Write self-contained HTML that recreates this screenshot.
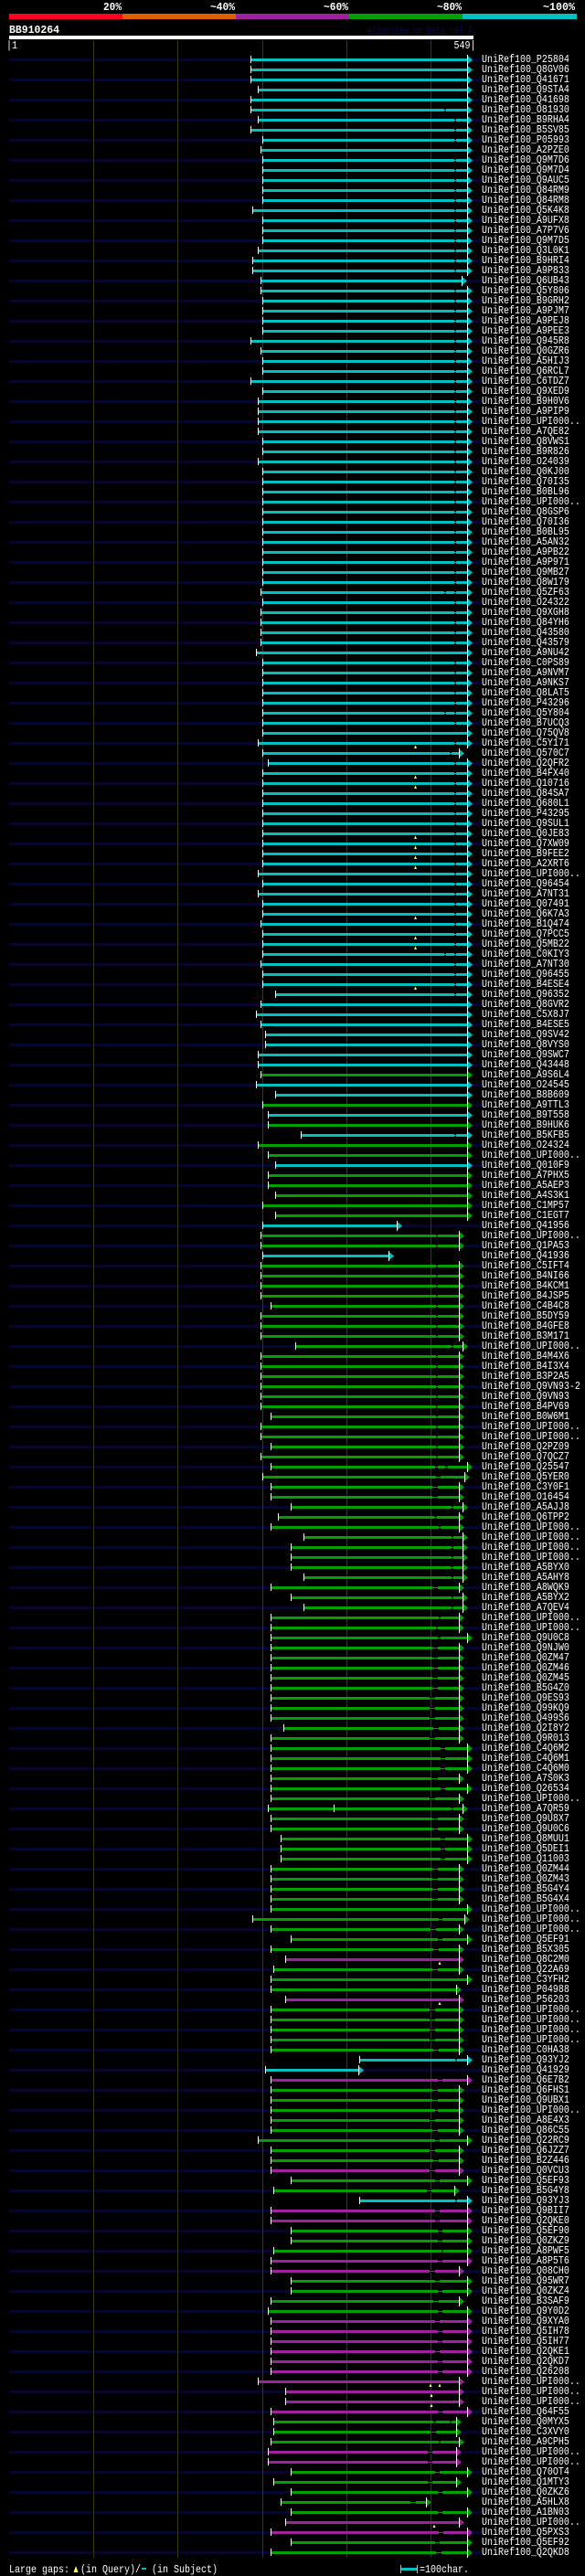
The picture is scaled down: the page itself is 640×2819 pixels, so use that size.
<!DOCTYPE html>
<html><head><meta charset="utf-8"><style>
html,body{margin:0;padding:0;background:#000}
svg{display:block}
text{font-family:"Liberation Mono","DejaVu Sans Mono",monospace;fill:#fff;font-size:12px}
.l{transform:translate(527px,3px) scaleX(.8333)}
.c{stroke:#00c0c0}.g{stroke:#00a000}.m{stroke:#a020a0}
.c,.g,.m{stroke-width:3;fill:none}
.k{stroke:#000;stroke-width:1;fill:none}
.b{font-weight:bold}
</style></head><body>
<svg width="640" height="2819" viewBox="0 0 640 2819" xmlns="http://www.w3.org/2000/svg">
<defs>
<path id="t" d="M.5-4v8" stroke="#fff"/>
<g id="ec"><path d="M0-4.5L6 .5 0 5.5z" fill="#00c0c0"/><path d="M.5-5v11" stroke="#fff"/></g>
<g id="eg"><path d="M0-4.5L6 .5 0 5.5z" fill="#00a000"/><path d="M.5-5v11" stroke="#fff"/></g>
<g id="em"><path d="M0-4.5L6 .5 0 5.5z" fill="#a020a0"/><path d="M.5-5v11" stroke="#fff"/></g>
<path id="y" d="M-1.5 6h3L0 2.5z" fill="#ffff60"/>
<pattern id="st" patternUnits="userSpaceOnUse" x="0" y="64" width="640" height="22"><rect width="640" height="3" fill="#06062c"/></pattern>
</defs>
<rect width="640" height="2819" fill="#000"/>
<!-- header -->
<rect x="10" y="15" width="124" height="6" fill="#ff0020"/>
<rect x="134" y="15" width="124" height="6" fill="#e06000"/>
<rect x="258" y="15" width="124" height="6" fill="#a020a0"/>
<rect x="382" y="15" width="124" height="6" fill="#00a000"/>
<rect x="506" y="15" width="125" height="6" fill="#00c0c0"/>
<text class="b" x="113" y="11" font-size="13" textLength="20" lengthAdjust="spacingAndGlyphs">20%</text>
<text class="b" x="230" y="11" font-size="13" textLength="27" lengthAdjust="spacingAndGlyphs">~40%</text>
<text class="b" x="354" y="11" font-size="13" textLength="27" lengthAdjust="spacingAndGlyphs">~60%</text>
<text class="b" x="478" y="11" font-size="13" textLength="27" lengthAdjust="spacingAndGlyphs">~80%</text>
<text class="b" x="594" y="11" font-size="13" textLength="35" lengthAdjust="spacingAndGlyphs">~100%</text>
<text class="b" x="10" y="36" textLength="55" lengthAdjust="spacingAndGlyphs">BB910264</text>
<text x="402" y="37" font-size="9" style="fill:#0c0c4c" textLength="115" lengthAdjust="spacingAndGlyphs">AlignView.pm Beta rel.7</text>
<rect x="10" y="39" width="508" height="4" fill="#fff"/>
<text x="7" y="53" textLength="12" lengthAdjust="spacingAndGlyphs">|1</text>
<text x="496.5" y="53" textLength="24" lengthAdjust="spacingAndGlyphs">549|</text>
<!-- stripes & grid -->
<rect x="10" y="64" width="517" height="2731" fill="url(#st)"/>
<path d="M102.5 44V2799M194.5 44V2799M287.5 44V2799M379.5 44V2799M471.5 44V2799" stroke="#38380e" fill="none"/>
<!-- rows -->
<g transform="translate(0 65)"><path class="c" d="M274 .5H511"/><use href="#t" x="274"/><use href="#ec" x="511"/><text class="l">UniRef100_P25804</text></g>
<g transform="translate(0 76)"><path class="c" d="M274 .5H511"/><use href="#t" x="274"/><use href="#ec" x="511"/><text class="l">UniRef100_Q8GV06</text></g>
<g transform="translate(0 87)"><path class="c" d="M274 .5H511"/><use href="#t" x="274"/><use href="#ec" x="511"/><text class="l">UniRef100_Q41671</text></g>
<g transform="translate(0 98)"><path class="c" d="M282 .5H511"/><use href="#t" x="282"/><use href="#ec" x="511"/><text class="l">UniRef100_Q9STA4</text></g>
<g transform="translate(0 109)"><path class="c" d="M274 .5H511"/><use href="#t" x="274"/><use href="#ec" x="511"/><text class="l">UniRef100_Q41698</text></g>
<g transform="translate(0 120)"><path class="c" d="M274 .5H511"/><path class="k" d="M486-.5h2m-2 2h2"/><use href="#t" x="274"/><use href="#ec" x="511"/><text class="l">UniRef100_O81930</text></g>
<g transform="translate(0 131)"><path class="c" d="M282 .5H511"/><path class="k" d="M497-.5h2m-2 2h2"/><use href="#t" x="282"/><use href="#ec" x="511"/><text class="l">UniRef100_B9RHA4</text></g>
<g transform="translate(0 142)"><path class="c" d="M274 .5H511"/><path class="k" d="M497-.5h2m-2 2h2"/><use href="#t" x="274"/><use href="#ec" x="511"/><text class="l">UniRef100_B5SV85</text></g>
<g transform="translate(0 153)"><path class="c" d="M287 .5H511"/><path class="k" d="M497-.5h2m-2 2h2"/><use href="#t" x="287"/><use href="#ec" x="511"/><text class="l">UniRef100_P05993</text></g>
<g transform="translate(0 164)"><path class="c" d="M285 .5H511"/><use href="#t" x="285"/><use href="#ec" x="511"/><text class="l">UniRef100_A2PZE0</text></g>
<g transform="translate(0 175)"><path class="c" d="M287 .5H511"/><path class="k" d="M497-.5h2m-2 2h2"/><use href="#t" x="287"/><use href="#ec" x="511"/><text class="l">UniRef100_Q9M7D6</text></g>
<g transform="translate(0 186)"><path class="c" d="M287 .5H511"/><path class="k" d="M497-.5h2m-2 2h2"/><use href="#t" x="287"/><use href="#ec" x="511"/><text class="l">UniRef100_Q9M7D4</text></g>
<g transform="translate(0 197)"><path class="c" d="M287 .5H511"/><path class="k" d="M497-.5h2m-2 2h2"/><use href="#t" x="287"/><use href="#ec" x="511"/><text class="l">UniRef100_Q9AUC5</text></g>
<g transform="translate(0 208)"><path class="c" d="M287 .5H511"/><path class="k" d="M497-.5h2m-2 2h2"/><use href="#t" x="287"/><use href="#ec" x="511"/><text class="l">UniRef100_Q84RM9</text></g>
<g transform="translate(0 219)"><path class="c" d="M287 .5H511"/><path class="k" d="M497-.5h2m-2 2h2"/><use href="#t" x="287"/><use href="#ec" x="511"/><text class="l">UniRef100_Q84RM8</text></g>
<g transform="translate(0 230)"><path class="c" d="M276 .5H511"/><path class="k" d="M497-.5h2m-2 2h2"/><use href="#t" x="276"/><use href="#ec" x="511"/><text class="l">UniRef100_Q5K4K8</text></g>
<g transform="translate(0 241)"><path class="c" d="M287 .5H511"/><path class="k" d="M497-.5h2m-2 2h2"/><use href="#t" x="287"/><use href="#ec" x="511"/><text class="l">UniRef100_A9UFX8</text></g>
<g transform="translate(0 252)"><path class="c" d="M287 .5H511"/><path class="k" d="M497-.5h2m-2 2h2"/><use href="#t" x="287"/><use href="#ec" x="511"/><text class="l">UniRef100_A7P7V6</text></g>
<g transform="translate(0 263)"><path class="c" d="M287 .5H511"/><path class="k" d="M497-.5h2m-2 2h2"/><use href="#t" x="287"/><use href="#ec" x="511"/><text class="l">UniRef100_Q9M7D5</text></g>
<g transform="translate(0 274)"><path class="c" d="M282 .5H511"/><path class="k" d="M497-.5h2m-2 2h2"/><use href="#t" x="282"/><use href="#ec" x="511"/><text class="l">UniRef100_Q3L0K1</text></g>
<g transform="translate(0 285)"><path class="c" d="M276 .5H511"/><path class="k" d="M497-.5h2m-2 2h2"/><use href="#t" x="276"/><use href="#ec" x="511"/><text class="l">UniRef100_B9HRI4</text></g>
<g transform="translate(0 296)"><path class="c" d="M276 .5H511"/><path class="k" d="M497-.5h2m-2 2h2"/><use href="#t" x="276"/><use href="#ec" x="511"/><text class="l">UniRef100_A9P833</text></g>
<g transform="translate(0 307)"><path class="c" d="M285 .5H505"/><use href="#t" x="285"/><use href="#ec" x="505"/><text class="l">UniRef100_Q6UB43</text></g>
<g transform="translate(0 318)"><path class="c" d="M285 .5H511"/><path class="k" d="M497-.5h2m-2 2h2"/><use href="#t" x="285"/><use href="#ec" x="511"/><text class="l">UniRef100_Q5Y806</text></g>
<g transform="translate(0 329)"><path class="c" d="M287 .5H511"/><path class="k" d="M497-.5h2m-2 2h2"/><use href="#t" x="287"/><use href="#ec" x="511"/><text class="l">UniRef100_B9GRH2</text></g>
<g transform="translate(0 340)"><path class="c" d="M287 .5H511"/><path class="k" d="M497-.5h2m-2 2h2"/><use href="#t" x="287"/><use href="#ec" x="511"/><text class="l">UniRef100_A9PJM7</text></g>
<g transform="translate(0 351)"><path class="c" d="M287 .5H511"/><path class="k" d="M497-.5h2m-2 2h2"/><use href="#t" x="287"/><use href="#ec" x="511"/><text class="l">UniRef100_A9PEJ8</text></g>
<g transform="translate(0 362)"><path class="c" d="M287 .5H511"/><path class="k" d="M497-.5h2m-2 2h2"/><use href="#t" x="287"/><use href="#ec" x="511"/><text class="l">UniRef100_A9PEE3</text></g>
<g transform="translate(0 373)"><path class="c" d="M274 .5H511"/><path class="k" d="M497-.5h2m-2 2h2"/><use href="#t" x="274"/><use href="#ec" x="511"/><text class="l">UniRef100_Q945R8</text></g>
<g transform="translate(0 384)"><path class="c" d="M285 .5H511"/><path class="k" d="M497-.5h2m-2 2h2"/><use href="#t" x="285"/><use href="#ec" x="511"/><text class="l">UniRef100_Q0GZR6</text></g>
<g transform="translate(0 395)"><path class="c" d="M287 .5H511"/><path class="k" d="M497-.5h2m-2 2h2"/><use href="#t" x="287"/><use href="#ec" x="511"/><text class="l">UniRef100_A5HIJ3</text></g>
<g transform="translate(0 406)"><path class="c" d="M287 .5H511"/><path class="k" d="M497-.5h2m-2 2h2"/><use href="#t" x="287"/><use href="#ec" x="511"/><text class="l">UniRef100_Q6RCL7</text></g>
<g transform="translate(0 417)"><path class="c" d="M274 .5H511"/><path class="k" d="M497-.5h2m-2 2h2"/><use href="#t" x="274"/><use href="#ec" x="511"/><text class="l">UniRef100_C6TDZ7</text></g>
<g transform="translate(0 428)"><path class="c" d="M287 .5H511"/><path class="k" d="M497-.5h2m-2 2h2"/><use href="#t" x="287"/><use href="#ec" x="511"/><text class="l">UniRef100_Q9XED9</text></g>
<g transform="translate(0 439)"><path class="c" d="M282 .5H511"/><path class="k" d="M497-.5h2m-2 2h2"/><use href="#t" x="282"/><use href="#ec" x="511"/><text class="l">UniRef100_B9H0V6</text></g>
<g transform="translate(0 450)"><path class="c" d="M282 .5H511"/><path class="k" d="M497-.5h2m-2 2h2"/><use href="#t" x="282"/><use href="#ec" x="511"/><text class="l">UniRef100_A9PIP9</text></g>
<g transform="translate(0 461)"><path class="c" d="M282 .5H511"/><path class="k" d="M497-.5h2m-2 2h2"/><use href="#t" x="282"/><use href="#ec" x="511"/><text class="l">UniRef100_UPI000..</text></g>
<g transform="translate(0 472)"><path class="c" d="M282 .5H511"/><path class="k" d="M497-.5h2m-2 2h2"/><use href="#t" x="282"/><use href="#ec" x="511"/><text class="l">UniRef100_A7QE82</text></g>
<g transform="translate(0 483)"><path class="c" d="M287 .5H511"/><path class="k" d="M497-.5h2m-2 2h2"/><use href="#t" x="287"/><use href="#ec" x="511"/><text class="l">UniRef100_Q8VWS1</text></g>
<g transform="translate(0 494)"><path class="c" d="M287 .5H511"/><path class="k" d="M497-.5h2m-2 2h2"/><use href="#t" x="287"/><use href="#ec" x="511"/><text class="l">UniRef100_B9R826</text></g>
<g transform="translate(0 505)"><path class="c" d="M282 .5H511"/><path class="k" d="M497-.5h2m-2 2h2"/><use href="#t" x="282"/><use href="#ec" x="511"/><text class="l">UniRef100_O24039</text></g>
<g transform="translate(0 516)"><path class="c" d="M287 .5H511"/><path class="k" d="M497-.5h2m-2 2h2"/><use href="#t" x="287"/><use href="#ec" x="511"/><text class="l">UniRef100_Q0KJ00</text></g>
<g transform="translate(0 527)"><path class="c" d="M287 .5H511"/><path class="k" d="M497-.5h2m-2 2h2"/><use href="#t" x="287"/><use href="#ec" x="511"/><text class="l">UniRef100_Q70I35</text></g>
<g transform="translate(0 538)"><path class="c" d="M287 .5H511"/><path class="k" d="M497-.5h2m-2 2h2"/><use href="#t" x="287"/><use href="#ec" x="511"/><text class="l">UniRef100_B0BL96</text></g>
<g transform="translate(0 549)"><path class="c" d="M287 .5H511"/><path class="k" d="M497-.5h2m-2 2h2"/><use href="#t" x="287"/><use href="#ec" x="511"/><text class="l">UniRef100_UPI000..</text></g>
<g transform="translate(0 560)"><path class="c" d="M287 .5H511"/><path class="k" d="M497-.5h2m-2 2h2"/><use href="#t" x="287"/><use href="#ec" x="511"/><text class="l">UniRef100_Q8GSP6</text></g>
<g transform="translate(0 571)"><path class="c" d="M287 .5H511"/><path class="k" d="M497-.5h2m-2 2h2"/><use href="#t" x="287"/><use href="#ec" x="511"/><text class="l">UniRef100_Q70I36</text></g>
<g transform="translate(0 582)"><path class="c" d="M287 .5H511"/><path class="k" d="M497-.5h2m-2 2h2"/><use href="#t" x="287"/><use href="#ec" x="511"/><text class="l">UniRef100_B0BL95</text></g>
<g transform="translate(0 593)"><path class="c" d="M287 .5H511"/><path class="k" d="M497-.5h2m-2 2h2"/><use href="#t" x="287"/><use href="#ec" x="511"/><text class="l">UniRef100_A5AN32</text></g>
<g transform="translate(0 604)"><path class="c" d="M287 .5H511"/><path class="k" d="M497-.5h2m-2 2h2"/><use href="#t" x="287"/><use href="#ec" x="511"/><text class="l">UniRef100_A9PB22</text></g>
<g transform="translate(0 615)"><path class="c" d="M287 .5H511"/><path class="k" d="M497-.5h2m-2 2h2"/><use href="#t" x="287"/><use href="#ec" x="511"/><text class="l">UniRef100_A9P971</text></g>
<g transform="translate(0 626)"><path class="c" d="M287 .5H511"/><path class="k" d="M497-.5h2m-2 2h2"/><use href="#t" x="287"/><use href="#ec" x="511"/><text class="l">UniRef100_Q9MB27</text></g>
<g transform="translate(0 637)"><path class="c" d="M287 .5H511"/><path class="k" d="M497-.5h2m-2 2h2"/><use href="#t" x="287"/><use href="#ec" x="511"/><text class="l">UniRef100_Q8W179</text></g>
<g transform="translate(0 648)"><path class="c" d="M285 .5H511"/><path class="k" d="M486-.5h2m-2 2h2M497-.5h2m-2 2h2"/><use href="#t" x="285"/><use href="#ec" x="511"/><text class="l">UniRef100_Q5ZF63</text></g>
<g transform="translate(0 659)"><path class="c" d="M287 .5H511"/><path class="k" d="M497-.5h2m-2 2h2"/><use href="#t" x="287"/><use href="#ec" x="511"/><text class="l">UniRef100_O24322</text></g>
<g transform="translate(0 670)"><path class="c" d="M285 .5H511"/><path class="k" d="M497-.5h2m-2 2h2"/><use href="#t" x="285"/><use href="#ec" x="511"/><text class="l">UniRef100_Q9XGH8</text></g>
<g transform="translate(0 681)"><path class="c" d="M285 .5H511"/><path class="k" d="M497-.5h2m-2 2h2"/><use href="#t" x="285"/><use href="#ec" x="511"/><text class="l">UniRef100_Q84YH6</text></g>
<g transform="translate(0 692)"><path class="c" d="M285 .5H511"/><path class="k" d="M497-.5h2m-2 2h2"/><use href="#t" x="285"/><use href="#ec" x="511"/><text class="l">UniRef100_Q43580</text></g>
<g transform="translate(0 703)"><path class="c" d="M285 .5H511"/><path class="k" d="M497-.5h2m-2 2h2"/><use href="#t" x="285"/><use href="#ec" x="511"/><text class="l">UniRef100_Q43579</text></g>
<g transform="translate(0 714)"><path class="c" d="M280 .5H511"/><use href="#t" x="280"/><use href="#ec" x="511"/><text class="l">UniRef100_A9NU42</text></g>
<g transform="translate(0 725)"><path class="c" d="M287 .5H511"/><path class="k" d="M497-.5h2m-2 2h2"/><use href="#t" x="287"/><use href="#ec" x="511"/><text class="l">UniRef100_C0PS89</text></g>
<g transform="translate(0 736)"><path class="c" d="M287 .5H511"/><path class="k" d="M497-.5h2m-2 2h2"/><use href="#t" x="287"/><use href="#ec" x="511"/><text class="l">UniRef100_A9NVM7</text></g>
<g transform="translate(0 747)"><path class="c" d="M287 .5H511"/><path class="k" d="M497-.5h2m-2 2h2"/><use href="#t" x="287"/><use href="#ec" x="511"/><text class="l">UniRef100_A9NKS7</text></g>
<g transform="translate(0 758)"><path class="c" d="M287 .5H511"/><path class="k" d="M497-.5h2m-2 2h2"/><use href="#t" x="287"/><use href="#ec" x="511"/><text class="l">UniRef100_Q8LAT5</text></g>
<g transform="translate(0 769)"><path class="c" d="M287 .5H511"/><path class="k" d="M497-.5h2m-2 2h2"/><use href="#t" x="287"/><use href="#ec" x="511"/><text class="l">UniRef100_P43296</text></g>
<g transform="translate(0 780)"><path class="c" d="M287 .5H511"/><path class="k" d="M486-.5h2m-2 2h2M497-.5h2m-2 2h2"/><use href="#t" x="287"/><use href="#ec" x="511"/><text class="l">UniRef100_Q5Y804</text></g>
<g transform="translate(0 791)"><path class="c" d="M287 .5H511"/><path class="k" d="M497-.5h2m-2 2h2"/><use href="#t" x="287"/><use href="#ec" x="511"/><text class="l">UniRef100_B7UCQ3</text></g>
<g transform="translate(0 802)"><path class="c" d="M287 .5H511"/><use href="#t" x="287"/><use href="#ec" x="511"/><text class="l">UniRef100_Q75QV8</text></g>
<g transform="translate(0 813)"><path class="c" d="M282 .5H511"/><path class="k" d="M497-.5h2m-2 2h2"/><use href="#t" x="282"/><use href="#ec" x="511"/><use href="#y" x="454.5"/><text class="l">UniRef100_C5Y171</text></g>
<g transform="translate(0 824)"><path class="c" d="M287 .5H502"/><path class="k" d="M492-.5h2m-2 2h2"/><use href="#t" x="287"/><use href="#ec" x="502"/><text class="l">UniRef100_Q570C7</text></g>
<g transform="translate(0 835)"><path class="c" d="M293 .5H511"/><path class="k" d="M497-.5h2m-2 2h2"/><use href="#t" x="293"/><use href="#ec" x="511"/><text class="l">UniRef100_Q2QFR2</text></g>
<g transform="translate(0 846)"><path class="c" d="M287 .5H511"/><path class="k" d="M497-.5h2m-2 2h2"/><use href="#t" x="287"/><use href="#ec" x="511"/><use href="#y" x="454.5"/><text class="l">UniRef100_B4FX40</text></g>
<g transform="translate(0 857)"><path class="c" d="M287 .5H511"/><path class="k" d="M497-.5h2m-2 2h2"/><use href="#t" x="287"/><use href="#ec" x="511"/><use href="#y" x="454.5"/><text class="l">UniRef100_Q10716</text></g>
<g transform="translate(0 868)"><path class="c" d="M287 .5H511"/><path class="k" d="M497-.5h2m-2 2h2"/><use href="#t" x="287"/><use href="#ec" x="511"/><text class="l">UniRef100_Q84SA7</text></g>
<g transform="translate(0 879)"><path class="c" d="M287 .5H511"/><path class="k" d="M497-.5h2m-2 2h2"/><use href="#t" x="287"/><use href="#ec" x="511"/><text class="l">UniRef100_Q680L1</text></g>
<g transform="translate(0 890)"><path class="c" d="M287 .5H511"/><path class="k" d="M497-.5h2m-2 2h2"/><use href="#t" x="287"/><use href="#ec" x="511"/><text class="l">UniRef100_P43295</text></g>
<g transform="translate(0 901)"><path class="c" d="M287 .5H511"/><path class="k" d="M497-.5h2m-2 2h2"/><use href="#t" x="287"/><use href="#ec" x="511"/><text class="l">UniRef100_Q9SUL1</text></g>
<g transform="translate(0 912)"><path class="c" d="M287 .5H511"/><path class="k" d="M497-.5h2m-2 2h2"/><use href="#t" x="287"/><use href="#ec" x="511"/><use href="#y" x="454.5"/><text class="l">UniRef100_Q0JE83</text></g>
<g transform="translate(0 923)"><path class="c" d="M287 .5H511"/><path class="k" d="M497-.5h2m-2 2h2"/><use href="#t" x="287"/><use href="#ec" x="511"/><use href="#y" x="454.5"/><text class="l">UniRef100_Q7XW09</text></g>
<g transform="translate(0 934)"><path class="c" d="M287 .5H511"/><path class="k" d="M497-.5h2m-2 2h2"/><use href="#t" x="287"/><use href="#ec" x="511"/><use href="#y" x="454.5"/><text class="l">UniRef100_B9FEE2</text></g>
<g transform="translate(0 945)"><path class="c" d="M287 .5H511"/><path class="k" d="M497-.5h2m-2 2h2"/><use href="#t" x="287"/><use href="#ec" x="511"/><use href="#y" x="454.5"/><text class="l">UniRef100_A2XRT6</text></g>
<g transform="translate(0 956)"><path class="c" d="M282 .5H511"/><path class="k" d="M497-.5h2m-2 2h2"/><use href="#t" x="282"/><use href="#ec" x="511"/><text class="l">UniRef100_UPI000..</text></g>
<g transform="translate(0 967)"><path class="c" d="M287 .5H511"/><path class="k" d="M497-.5h2m-2 2h2"/><use href="#t" x="287"/><use href="#ec" x="511"/><text class="l">UniRef100_Q96454</text></g>
<g transform="translate(0 978)"><path class="c" d="M282 .5H511"/><path class="k" d="M497-.5h2m-2 2h2"/><use href="#t" x="282"/><use href="#ec" x="511"/><text class="l">UniRef100_A7NT31</text></g>
<g transform="translate(0 989)"><path class="c" d="M287 .5H511"/><path class="k" d="M497-.5h2m-2 2h2"/><use href="#t" x="287"/><use href="#ec" x="511"/><text class="l">UniRef100_Q07491</text></g>
<g transform="translate(0 1000)"><path class="c" d="M287 .5H511"/><path class="k" d="M497-.5h2m-2 2h2"/><use href="#t" x="287"/><use href="#ec" x="511"/><use href="#y" x="454.5"/><text class="l">UniRef100_Q6K7A3</text></g>
<g transform="translate(0 1011)"><path class="c" d="M285 .5H511"/><path class="k" d="M497-.5h2m-2 2h2"/><use href="#t" x="285"/><use href="#ec" x="511"/><text class="l">UniRef100_B1Q474</text></g>
<g transform="translate(0 1022)"><path class="c" d="M287 .5H511"/><path class="k" d="M497-.5h2m-2 2h2"/><use href="#t" x="287"/><use href="#ec" x="511"/><use href="#y" x="454.5"/><text class="l">UniRef100_Q7PCC5</text></g>
<g transform="translate(0 1033)"><path class="c" d="M287 .5H511"/><path class="k" d="M497-.5h2m-2 2h2"/><use href="#t" x="287"/><use href="#ec" x="511"/><use href="#y" x="454.5"/><text class="l">UniRef100_Q5MB22</text></g>
<g transform="translate(0 1044)"><path class="c" d="M287 .5H511"/><path class="k" d="M486-.5h2m-2 2h2M497-.5h2m-2 2h2"/><use href="#t" x="287"/><use href="#ec" x="511"/><text class="l">UniRef100_C0KIY3</text></g>
<g transform="translate(0 1055)"><path class="c" d="M285 .5H511"/><path class="k" d="M497-.5h2m-2 2h2"/><use href="#t" x="285"/><use href="#ec" x="511"/><text class="l">UniRef100_A7NT30</text></g>
<g transform="translate(0 1066)"><path class="c" d="M287 .5H511"/><path class="k" d="M497-.5h2m-2 2h2"/><use href="#t" x="287"/><use href="#ec" x="511"/><text class="l">UniRef100_Q96455</text></g>
<g transform="translate(0 1077)"><path class="c" d="M287 .5H511"/><path class="k" d="M497-.5h2m-2 2h2"/><use href="#t" x="287"/><use href="#ec" x="511"/><use href="#y" x="454.5"/><text class="l">UniRef100_B4ESE4</text></g>
<g transform="translate(0 1088)"><path class="c" d="M301 .5H511"/><path class="k" d="M497-.5h2m-2 2h2"/><use href="#t" x="301"/><use href="#ec" x="511"/><text class="l">UniRef100_Q96352</text></g>
<g transform="translate(0 1099)"><path class="c" d="M285 .5H511"/><use href="#t" x="285"/><use href="#ec" x="511"/><text class="l">UniRef100_Q8GVR2</text></g>
<g transform="translate(0 1110)"><path class="c" d="M280 .5H511"/><use href="#t" x="280"/><use href="#ec" x="511"/><text class="l">UniRef100_C5X8J7</text></g>
<g transform="translate(0 1121)"><path class="c" d="M285 .5H511"/><use href="#t" x="285"/><use href="#ec" x="511"/><text class="l">UniRef100_B4ESE5</text></g>
<g transform="translate(0 1132)"><path class="c" d="M290 .5H511"/><use href="#t" x="290"/><use href="#ec" x="511"/><text class="l">UniRef100_Q9SV42</text></g>
<g transform="translate(0 1143)"><path class="c" d="M290 .5H511"/><use href="#t" x="290"/><use href="#ec" x="511"/><text class="l">UniRef100_Q8VYS0</text></g>
<g transform="translate(0 1154)"><path class="c" d="M282 .5H511"/><use href="#t" x="282"/><use href="#ec" x="511"/><text class="l">UniRef100_Q9SWC7</text></g>
<g transform="translate(0 1165)"><path class="c" d="M282 .5H511"/><use href="#t" x="282"/><use href="#ec" x="511"/><text class="l">UniRef100_Q43448</text></g>
<g transform="translate(0 1176)"><path class="g" d="M285 .5H511"/><use href="#t" x="285"/><use href="#eg" x="511"/><text class="l">UniRef100_A9S6L4</text></g>
<g transform="translate(0 1187)"><path class="c" d="M280 .5H511"/><use href="#t" x="280"/><use href="#ec" x="511"/><text class="l">UniRef100_O24545</text></g>
<g transform="translate(0 1198)"><path class="c" d="M301 .5H511"/><use href="#t" x="301"/><use href="#ec" x="511"/><text class="l">UniRef100_B8B609</text></g>
<g transform="translate(0 1209)"><path class="g" d="M287 .5H511"/><use href="#t" x="287"/><use href="#eg" x="511"/><text class="l">UniRef100_A9TTL3</text></g>
<g transform="translate(0 1220)"><path class="c" d="M293 .5H511"/><use href="#t" x="293"/><use href="#ec" x="511"/><text class="l">UniRef100_B9T558</text></g>
<g transform="translate(0 1231)"><path class="g" d="M293 .5H511"/><use href="#t" x="293"/><use href="#eg" x="511"/><text class="l">UniRef100_B9HUK6</text></g>
<g transform="translate(0 1242)"><path class="c" d="M329 .5H511"/><path class="k" d="M497-.5h2m-2 2h2"/><use href="#t" x="329"/><use href="#ec" x="511"/><text class="l">UniRef100_B5KFB5</text></g>
<g transform="translate(0 1253)"><path class="g" d="M282 .5H511"/><use href="#t" x="282"/><use href="#eg" x="511"/><text class="l">UniRef100_O24324</text></g>
<g transform="translate(0 1264)"><path class="g" d="M293 .5H511"/><use href="#t" x="293"/><use href="#eg" x="511"/><text class="l">UniRef100_UPI000..</text></g>
<g transform="translate(0 1275)"><path class="c" d="M301 .5H511"/><use href="#t" x="301"/><use href="#ec" x="511"/><text class="l">UniRef100_Q010F9</text></g>
<g transform="translate(0 1286)"><path class="g" d="M293 .5H511"/><use href="#t" x="293"/><use href="#eg" x="511"/><text class="l">UniRef100_A7PHX5</text></g>
<g transform="translate(0 1297)"><path class="g" d="M293 .5H511"/><use href="#t" x="293"/><use href="#eg" x="511"/><text class="l">UniRef100_A5AEP3</text></g>
<g transform="translate(0 1308)"><path class="g" d="M301 .5H511"/><use href="#t" x="301"/><use href="#eg" x="511"/><text class="l">UniRef100_A4S3K1</text></g>
<g transform="translate(0 1319)"><path class="g" d="M287 .5H511"/><use href="#t" x="287"/><use href="#eg" x="511"/><text class="l">UniRef100_C1MP57</text></g>
<g transform="translate(0 1330)"><path class="g" d="M301 .5H511"/><use href="#t" x="301"/><use href="#eg" x="511"/><text class="l">UniRef100_C1EGT7</text></g>
<g transform="translate(0 1341)"><path class="c" d="M287 .5H434"/><use href="#t" x="287"/><use href="#ec" x="434"/><text class="l">UniRef100_Q41956</text></g>
<g transform="translate(0 1352)"><path class="g" d="M285 .5H502"/><path class="k" d="M477-.5h2m-2 2h2"/><use href="#t" x="285"/><use href="#eg" x="502"/><text class="l">UniRef100_UPI000..</text></g>
<g transform="translate(0 1363)"><path class="g" d="M285 .5H502"/><path class="k" d="M477-.5h2m-2 2h2"/><use href="#t" x="285"/><use href="#eg" x="502"/><text class="l">UniRef100_Q1PA53</text></g>
<g transform="translate(0 1374)"><path class="c" d="M287 .5H425"/><use href="#t" x="287"/><use href="#ec" x="425"/><text class="l">UniRef100_Q41936</text></g>
<g transform="translate(0 1385)"><path class="g" d="M285 .5H502"/><path class="k" d="M477-.5h2m-2 2h2"/><use href="#t" x="285"/><use href="#eg" x="502"/><text class="l">UniRef100_C5IFT4</text></g>
<g transform="translate(0 1396)"><path class="g" d="M285 .5H502"/><path class="k" d="M477-.5h2m-2 2h2"/><use href="#t" x="285"/><use href="#eg" x="502"/><text class="l">UniRef100_B4NI66</text></g>
<g transform="translate(0 1407)"><path class="g" d="M285 .5H502"/><path class="k" d="M477-.5h2m-2 2h2"/><use href="#t" x="285"/><use href="#eg" x="502"/><text class="l">UniRef100_B4KCM1</text></g>
<g transform="translate(0 1418)"><path class="g" d="M285 .5H502"/><path class="k" d="M477-.5h2m-2 2h2"/><use href="#t" x="285"/><use href="#eg" x="502"/><text class="l">UniRef100_B4JSP5</text></g>
<g transform="translate(0 1429)"><path class="g" d="M296 .5H502"/><path class="k" d="M477-.5h2m-2 2h2"/><use href="#t" x="296"/><use href="#eg" x="502"/><text class="l">UniRef100_C4B4C8</text></g>
<g transform="translate(0 1440)"><path class="g" d="M285 .5H502"/><path class="k" d="M477-.5h2m-2 2h2"/><use href="#t" x="285"/><use href="#eg" x="502"/><text class="l">UniRef100_B5DY59</text></g>
<g transform="translate(0 1451)"><path class="g" d="M285 .5H502"/><path class="k" d="M477-.5h2m-2 2h2"/><use href="#t" x="285"/><use href="#eg" x="502"/><text class="l">UniRef100_B4GFE8</text></g>
<g transform="translate(0 1462)"><path class="g" d="M285 .5H502"/><path class="k" d="M477-.5h2m-2 2h2"/><use href="#t" x="285"/><use href="#eg" x="502"/><text class="l">UniRef100_B3M171</text></g>
<g transform="translate(0 1473)"><path class="g" d="M323 .5H506"/><path class="k" d="M494-.5h2m-2 2h2"/><use href="#t" x="323"/><use href="#eg" x="506"/><text class="l">UniRef100_UPI000..</text></g>
<g transform="translate(0 1484)"><path class="g" d="M285 .5H502"/><path class="k" d="M477-.5h2m-2 2h2"/><use href="#t" x="285"/><use href="#eg" x="502"/><text class="l">UniRef100_B4M4X6</text></g>
<g transform="translate(0 1495)"><path class="g" d="M285 .5H502"/><path class="k" d="M477-.5h2m-2 2h2"/><use href="#t" x="285"/><use href="#eg" x="502"/><text class="l">UniRef100_B4I3X4</text></g>
<g transform="translate(0 1506)"><path class="g" d="M285 .5H502"/><path class="k" d="M477-.5h2m-2 2h2"/><use href="#t" x="285"/><use href="#eg" x="502"/><text class="l">UniRef100_B3P2A5</text></g>
<g transform="translate(0 1517)"><path class="g" d="M285 .5H502"/><path class="k" d="M477-.5h2m-2 2h2"/><use href="#t" x="285"/><use href="#eg" x="502"/><text class="l">UniRef100_Q9VN93-2</text></g>
<g transform="translate(0 1528)"><path class="g" d="M285 .5H502"/><path class="k" d="M477-.5h2m-2 2h2"/><use href="#t" x="285"/><use href="#eg" x="502"/><text class="l">UniRef100_Q9VN93</text></g>
<g transform="translate(0 1539)"><path class="g" d="M285 .5H502"/><path class="k" d="M477-.5h2m-2 2h2"/><use href="#t" x="285"/><use href="#eg" x="502"/><text class="l">UniRef100_B4PV69</text></g>
<g transform="translate(0 1550)"><path class="g" d="M296 .5H502"/><path class="k" d="M477-.5h2m-2 2h2"/><use href="#t" x="296"/><use href="#eg" x="502"/><text class="l">UniRef100_B0W6M1</text></g>
<g transform="translate(0 1561)"><path class="g" d="M285 .5H502"/><path class="k" d="M477-.5h2m-2 2h2"/><use href="#t" x="285"/><use href="#eg" x="502"/><text class="l">UniRef100_UPI000..</text></g>
<g transform="translate(0 1572)"><path class="g" d="M285 .5H502"/><path class="k" d="M477-.5h2m-2 2h2"/><use href="#t" x="285"/><use href="#eg" x="502"/><text class="l">UniRef100_UPI000..</text></g>
<g transform="translate(0 1583)"><path class="g" d="M296 .5H502"/><path class="k" d="M477-.5h2m-2 2h2"/><use href="#t" x="296"/><use href="#eg" x="502"/><text class="l">UniRef100_Q2PZ09</text></g>
<g transform="translate(0 1594)"><path class="g" d="M285 .5H502"/><path class="k" d="M477-.5h2m-2 2h2"/><use href="#t" x="285"/><use href="#eg" x="502"/><text class="l">UniRef100_Q7QCZ7</text></g>
<g transform="translate(0 1605)"><path class="g" d="M296 .5H511"/><path class="k" d="M476-.5h3m-3 2h3M487-.5h3m-3 2h3"/><use href="#t" x="296"/><use href="#eg" x="511"/><text class="l">UniRef100_Q25547</text></g>
<g transform="translate(0 1616)"><path class="g" d="M287 .5H508"/><path class="k" d="M477-.5h5m-5 2h5"/><use href="#t" x="287"/><use href="#eg" x="508"/><text class="l">UniRef100_Q5YER0</text></g>
<g transform="translate(0 1627)"><path class="g" d="M296 .5H502"/><path class="k" d="M473-.5h6m-6 2h6"/><use href="#t" x="296"/><use href="#eg" x="502"/><text class="l">UniRef100_C3Y0F1</text></g>
<g transform="translate(0 1638)"><path class="g" d="M296 .5H502"/><path class="k" d="M473-.5h6m-6 2h6"/><use href="#t" x="296"/><use href="#eg" x="502"/><text class="l">UniRef100_O16454</text></g>
<g transform="translate(0 1649)"><path class="g" d="M318 .5H506"/><path class="k" d="M494-.5h2m-2 2h2"/><use href="#t" x="318"/><use href="#eg" x="506"/><text class="l">UniRef100_A5AJJ8</text></g>
<g transform="translate(0 1660)"><path class="g" d="M304 .5H502"/><path class="k" d="M475-.5h3m-3 2h3"/><use href="#t" x="304"/><use href="#eg" x="502"/><text class="l">UniRef100_Q6TPP2</text></g>
<g transform="translate(0 1671)"><path class="g" d="M296 .5H502"/><path class="k" d="M480-.5h2m-2 2h2"/><use href="#t" x="296"/><use href="#eg" x="502"/><text class="l">UniRef100_UPI000..</text></g>
<g transform="translate(0 1682)"><path class="g" d="M332 .5H506"/><path class="k" d="M494-.5h2m-2 2h2"/><use href="#t" x="332"/><use href="#eg" x="506"/><text class="l">UniRef100_UPI000..</text></g>
<g transform="translate(0 1693)"><path class="g" d="M318 .5H506"/><path class="k" d="M494-.5h2m-2 2h2"/><use href="#t" x="318"/><use href="#eg" x="506"/><text class="l">UniRef100_UPI000..</text></g>
<g transform="translate(0 1704)"><path class="g" d="M318 .5H506"/><path class="k" d="M494-.5h2m-2 2h2"/><use href="#t" x="318"/><use href="#eg" x="506"/><text class="l">UniRef100_UPI000..</text></g>
<g transform="translate(0 1715)"><path class="g" d="M318 .5H506"/><path class="k" d="M494-.5h2m-2 2h2"/><use href="#t" x="318"/><use href="#eg" x="506"/><text class="l">UniRef100_A5BYX0</text></g>
<g transform="translate(0 1726)"><path class="g" d="M332 .5H506"/><path class="k" d="M494-.5h2m-2 2h2"/><use href="#t" x="332"/><use href="#eg" x="506"/><text class="l">UniRef100_A5AHY8</text></g>
<g transform="translate(0 1737)"><path class="g" d="M296 .5H502"/><path class="k" d="M473-.5h6m-6 2h6"/><use href="#t" x="296"/><use href="#eg" x="502"/><text class="l">UniRef100_A8WQK9</text></g>
<g transform="translate(0 1748)"><path class="g" d="M318 .5H506"/><path class="k" d="M494-.5h2m-2 2h2"/><use href="#t" x="318"/><use href="#eg" x="506"/><text class="l">UniRef100_A5BYX2</text></g>
<g transform="translate(0 1759)"><path class="g" d="M332 .5H506"/><path class="k" d="M494-.5h2m-2 2h2"/><use href="#t" x="332"/><use href="#eg" x="506"/><text class="l">UniRef100_A7QEV4</text></g>
<g transform="translate(0 1770)"><path class="g" d="M296 .5H502"/><path class="k" d="M480-.5h2m-2 2h2"/><use href="#t" x="296"/><use href="#eg" x="502"/><text class="l">UniRef100_UPI000..</text></g>
<g transform="translate(0 1781)"><path class="g" d="M296 .5H502"/><path class="k" d="M477-.5h2m-2 2h2"/><use href="#t" x="296"/><use href="#eg" x="502"/><text class="l">UniRef100_UPI000..</text></g>
<g transform="translate(0 1792)"><path class="g" d="M296 .5H511"/><path class="k" d="M479-.5h3m-3 2h3"/><use href="#t" x="296"/><use href="#eg" x="511"/><text class="l">UniRef100_Q9U0C8</text></g>
<g transform="translate(0 1803)"><path class="g" d="M296 .5H502"/><path class="k" d="M473-.5h6m-6 2h6"/><use href="#t" x="296"/><use href="#eg" x="502"/><text class="l">UniRef100_Q9NJW0</text></g>
<g transform="translate(0 1814)"><path class="g" d="M296 .5H502"/><path class="k" d="M473-.5h6m-6 2h6"/><use href="#t" x="296"/><use href="#eg" x="502"/><text class="l">UniRef100_Q0ZM47</text></g>
<g transform="translate(0 1825)"><path class="g" d="M296 .5H502"/><path class="k" d="M473-.5h6m-6 2h6"/><use href="#t" x="296"/><use href="#eg" x="502"/><text class="l">UniRef100_Q0ZM46</text></g>
<g transform="translate(0 1836)"><path class="g" d="M296 .5H502"/><path class="k" d="M473-.5h6m-6 2h6"/><use href="#t" x="296"/><use href="#eg" x="502"/><text class="l">UniRef100_Q0ZM45</text></g>
<g transform="translate(0 1847)"><path class="g" d="M296 .5H502"/><path class="k" d="M473-.5h6m-6 2h6"/><use href="#t" x="296"/><use href="#eg" x="502"/><text class="l">UniRef100_B5G4Z0</text></g>
<g transform="translate(0 1858)"><path class="g" d="M296 .5H502"/><path class="k" d="M470-.5h6m-6 2h6"/><use href="#t" x="296"/><use href="#eg" x="502"/><text class="l">UniRef100_Q9ES93</text></g>
<g transform="translate(0 1869)"><path class="g" d="M296 .5H502"/><path class="k" d="M470-.5h6m-6 2h6"/><use href="#t" x="296"/><use href="#eg" x="502"/><text class="l">UniRef100_Q99KQ9</text></g>
<g transform="translate(0 1880)"><path class="g" d="M296 .5H502"/><path class="k" d="M470-.5h6m-6 2h6"/><use href="#t" x="296"/><use href="#eg" x="502"/><text class="l">UniRef100_Q499S6</text></g>
<g transform="translate(0 1891)"><path class="g" d="M310 .5H502"/><path class="k" d="M474-.5h6m-6 2h6"/><use href="#t" x="310"/><use href="#eg" x="502"/><text class="l">UniRef100_Q2I8Y2</text></g>
<g transform="translate(0 1902)"><path class="g" d="M296 .5H502"/><path class="k" d="M470-.5h6m-6 2h6"/><use href="#t" x="296"/><use href="#eg" x="502"/><text class="l">UniRef100_Q9R013</text></g>
<g transform="translate(0 1913)"><path class="g" d="M296 .5H511"/><path class="k" d="M482-.5h5m-5 2h5"/><use href="#t" x="296"/><use href="#eg" x="511"/><text class="l">UniRef100_C4Q6M2</text></g>
<g transform="translate(0 1924)"><path class="g" d="M296 .5H511"/><path class="k" d="M482-.5h5m-5 2h5"/><use href="#t" x="296"/><use href="#eg" x="511"/><text class="l">UniRef100_C4Q6M1</text></g>
<g transform="translate(0 1935)"><path class="g" d="M296 .5H511"/><path class="k" d="M482-.5h5m-5 2h5"/><use href="#t" x="296"/><use href="#eg" x="511"/><text class="l">UniRef100_C4Q6M0</text></g>
<g transform="translate(0 1946)"><path class="g" d="M296 .5H502"/><path class="k" d="M472-.5h7m-7 2h7"/><use href="#t" x="296"/><use href="#eg" x="502"/><text class="l">UniRef100_A7S0K3</text></g>
<g transform="translate(0 1957)"><path class="g" d="M296 .5H511"/><path class="k" d="M482-.5h5m-5 2h5"/><use href="#t" x="296"/><use href="#eg" x="511"/><text class="l">UniRef100_Q26534</text></g>
<g transform="translate(0 1968)"><path class="g" d="M296 .5H502"/><path class="k" d="M470-.5h6m-6 2h6"/><use href="#t" x="296"/><use href="#eg" x="502"/><text class="l">UniRef100_UPI000..</text></g>
<g transform="translate(0 1979)"><path class="g" d="M293 .5H506"/><path class="k" d="M494-.5h2m-2 2h2"/><use href="#t" x="293"/><use href="#t" x="365"/><use href="#eg" x="506"/><text class="l">UniRef100_A7QR59</text></g>
<g transform="translate(0 1990)"><path class="g" d="M296 .5H502"/><path class="k" d="M473-.5h6m-6 2h6"/><use href="#t" x="296"/><use href="#eg" x="502"/><text class="l">UniRef100_Q9U8X7</text></g>
<g transform="translate(0 2001)"><path class="g" d="M296 .5H502"/><path class="k" d="M473-.5h6m-6 2h6"/><use href="#t" x="296"/><use href="#eg" x="502"/><text class="l">UniRef100_Q9U0C6</text></g>
<g transform="translate(0 2012)"><path class="g" d="M307 .5H511"/><path class="k" d="M482-.5h5m-5 2h5"/><use href="#t" x="307"/><use href="#eg" x="511"/><text class="l">UniRef100_Q8MUU1</text></g>
<g transform="translate(0 2023)"><path class="g" d="M307 .5H511"/><path class="k" d="M482-.5h5m-5 2h5"/><use href="#t" x="307"/><use href="#eg" x="511"/><text class="l">UniRef100_Q5DEI1</text></g>
<g transform="translate(0 2034)"><path class="g" d="M307 .5H511"/><path class="k" d="M482-.5h5m-5 2h5"/><use href="#t" x="307"/><use href="#eg" x="511"/><text class="l">UniRef100_Q11003</text></g>
<g transform="translate(0 2045)"><path class="g" d="M296 .5H502"/><path class="k" d="M473-.5h6m-6 2h6"/><use href="#t" x="296"/><use href="#eg" x="502"/><text class="l">UniRef100_Q0ZM44</text></g>
<g transform="translate(0 2056)"><path class="g" d="M296 .5H502"/><path class="k" d="M473-.5h6m-6 2h6"/><use href="#t" x="296"/><use href="#eg" x="502"/><text class="l">UniRef100_Q0ZM43</text></g>
<g transform="translate(0 2067)"><path class="g" d="M296 .5H502"/><path class="k" d="M473-.5h6m-6 2h6"/><use href="#t" x="296"/><use href="#eg" x="502"/><text class="l">UniRef100_B5G4Y4</text></g>
<g transform="translate(0 2078)"><path class="g" d="M296 .5H502"/><path class="k" d="M473-.5h6m-6 2h6"/><use href="#t" x="296"/><use href="#eg" x="502"/><text class="l">UniRef100_B5G4X4</text></g>
<g transform="translate(0 2089)"><path class="g" d="M296 .5H511"/><use href="#t" x="296"/><use href="#eg" x="511"/><text class="l">UniRef100_UPI000..</text></g>
<g transform="translate(0 2100)"><path class="g" d="M276 .5H508"/><path class="k" d="M480-.5h4m-4 2h4"/><use href="#t" x="276"/><use href="#eg" x="508"/><text class="l">UniRef100_UPI000..</text></g>
<g transform="translate(0 2111)"><path class="g" d="M296 .5H502"/><path class="k" d="M471-.5h6m-6 2h6"/><use href="#t" x="296"/><use href="#eg" x="502"/><text class="l">UniRef100_UPI000..</text></g>
<g transform="translate(0 2122)"><path class="g" d="M318 .5H511"/><path class="k" d="M479-.5h5m-5 2h5"/><use href="#t" x="318"/><use href="#eg" x="511"/><text class="l">UniRef100_Q5EF91</text></g>
<g transform="translate(0 2133)"><path class="g" d="M296 .5H502"/><path class="k" d="M474-.5h6m-6 2h6"/><use href="#t" x="296"/><use href="#eg" x="502"/><text class="l">UniRef100_B5X305</text></g>
<g transform="translate(0 2144)"><path class="m" d="M312 .5H502"/><use href="#t" x="312"/><use href="#em" x="502"/><use href="#y" x="481"/><text class="l">UniRef100_Q8C2M0</text></g>
<g transform="translate(0 2155)"><path class="g" d="M299 .5H502"/><path class="k" d="M473-.5h6m-6 2h6"/><use href="#t" x="299"/><use href="#eg" x="502"/><text class="l">UniRef100_Q22A69</text></g>
<g transform="translate(0 2166)"><path class="g" d="M296 .5H511"/><use href="#t" x="296"/><use href="#eg" x="511"/><text class="l">UniRef100_C3YFH2</text></g>
<g transform="translate(0 2177)"><path class="g" d="M296 .5H499"/><use href="#t" x="296"/><use href="#eg" x="499"/><text class="l">UniRef100_P04988</text></g>
<g transform="translate(0 2188)"><path class="m" d="M312 .5H502"/><use href="#t" x="312"/><use href="#em" x="502"/><use href="#y" x="481"/><text class="l">UniRef100_P56203</text></g>
<g transform="translate(0 2199)"><path class="g" d="M296 .5H502"/><path class="k" d="M470-.5h6m-6 2h6"/><use href="#t" x="296"/><use href="#eg" x="502"/><text class="l">UniRef100_UPI000..</text></g>
<g transform="translate(0 2210)"><path class="g" d="M296 .5H502"/><path class="k" d="M470-.5h6m-6 2h6"/><use href="#t" x="296"/><use href="#eg" x="502"/><text class="l">UniRef100_UPI000..</text></g>
<g transform="translate(0 2221)"><path class="g" d="M296 .5H502"/><path class="k" d="M470-.5h6m-6 2h6"/><use href="#t" x="296"/><use href="#eg" x="502"/><text class="l">UniRef100_UPI000..</text></g>
<g transform="translate(0 2232)"><path class="g" d="M296 .5H502"/><path class="k" d="M470-.5h6m-6 2h6"/><use href="#t" x="296"/><use href="#eg" x="502"/><text class="l">UniRef100_UPI000..</text></g>
<g transform="translate(0 2243)"><path class="g" d="M296 .5H502"/><path class="k" d="M474-.5h6m-6 2h6"/><use href="#t" x="296"/><use href="#eg" x="502"/><text class="l">UniRef100_C0HA38</text></g>
<g transform="translate(0 2254)"><path class="c" d="M393 .5H511"/><path class="k" d="M498-.5h2m-2 2h2"/><use href="#t" x="393"/><use href="#ec" x="511"/><text class="l">UniRef100_Q93YJ2</text></g>
<g transform="translate(0 2265)"><path class="c" d="M290 .5H392"/><use href="#t" x="290"/><use href="#ec" x="392"/><text class="l">UniRef100_Q41929</text></g>
<g transform="translate(0 2276)"><path class="m" d="M296 .5H511"/><path class="k" d="M479-.5h5m-5 2h5"/><use href="#t" x="296"/><use href="#em" x="511"/><text class="l">UniRef100_Q6E7B2</text></g>
<g transform="translate(0 2287)"><path class="g" d="M296 .5H502"/><path class="k" d="M473-.5h6m-6 2h6"/><use href="#t" x="296"/><use href="#eg" x="502"/><text class="l">UniRef100_Q6FHS1</text></g>
<g transform="translate(0 2298)"><path class="g" d="M296 .5H502"/><path class="k" d="M473-.5h6m-6 2h6"/><use href="#t" x="296"/><use href="#eg" x="502"/><text class="l">UniRef100_Q9UBX1</text></g>
<g transform="translate(0 2309)"><path class="g" d="M296 .5H502"/><path class="k" d="M476-.5h3m-3 2h3"/><use href="#t" x="296"/><use href="#eg" x="502"/><text class="l">UniRef100_UPI000..</text></g>
<g transform="translate(0 2320)"><path class="g" d="M296 .5H502"/><path class="k" d="M470-.5h6m-6 2h6"/><use href="#t" x="296"/><use href="#eg" x="502"/><text class="l">UniRef100_A8E4X3</text></g>
<g transform="translate(0 2331)"><path class="g" d="M296 .5H502"/><path class="k" d="M473-.5h6m-6 2h6"/><use href="#t" x="296"/><use href="#eg" x="502"/><text class="l">UniRef100_Q86C55</text></g>
<g transform="translate(0 2342)"><path class="g" d="M282 .5H511"/><path class="k" d="M476-.5h5m-5 2h5"/><use href="#t" x="282"/><use href="#eg" x="511"/><text class="l">UniRef100_Q22RC9</text></g>
<g transform="translate(0 2353)"><path class="g" d="M296 .5H502"/><path class="k" d="M470-.5h6m-6 2h6"/><use href="#t" x="296"/><use href="#eg" x="502"/><text class="l">UniRef100_Q6JZZ7</text></g>
<g transform="translate(0 2364)"><path class="g" d="M296 .5H502"/><path class="k" d="M474-.5h6m-6 2h6"/><use href="#t" x="296"/><use href="#eg" x="502"/><text class="l">UniRef100_B2Z446</text></g>
<g transform="translate(0 2375)"><path class="m" d="M296 .5H502"/><path class="k" d="M470-.5h6m-6 2h6"/><use href="#t" x="296"/><use href="#em" x="502"/><text class="l">UniRef100_Q0VCU3</text></g>
<g transform="translate(0 2386)"><path class="g" d="M318 .5H511"/><path class="k" d="M476-.5h5m-5 2h5"/><use href="#t" x="318"/><use href="#eg" x="511"/><text class="l">UniRef100_Q5EF93</text></g>
<g transform="translate(0 2397)"><path class="g" d="M299 .5H497"/><path class="k" d="M467-.5h5m-5 2h5"/><use href="#t" x="299"/><use href="#eg" x="497"/><text class="l">UniRef100_B5G4Y8</text></g>
<g transform="translate(0 2408)"><path class="c" d="M393 .5H511"/><path class="k" d="M498-.5h2m-2 2h2"/><use href="#t" x="393"/><use href="#ec" x="511"/><text class="l">UniRef100_Q93YJ3</text></g>
<g transform="translate(0 2419)"><path class="m" d="M296 .5H511"/><path class="k" d="M476-.5h5m-5 2h5"/><use href="#t" x="296"/><use href="#em" x="511"/><text class="l">UniRef100_Q9BII7</text></g>
<g transform="translate(0 2430)"><path class="m" d="M296 .5H511"/><path class="k" d="M476-.5h5m-5 2h5"/><use href="#t" x="296"/><use href="#em" x="511"/><text class="l">UniRef100_Q2QKE0</text></g>
<g transform="translate(0 2441)"><path class="g" d="M318 .5H511"/><path class="k" d="M479-.5h5m-5 2h5"/><use href="#t" x="318"/><use href="#eg" x="511"/><text class="l">UniRef100_Q5EF90</text></g>
<g transform="translate(0 2452)"><path class="g" d="M318 .5H511"/><path class="k" d="M479-.5h5m-5 2h5"/><use href="#t" x="318"/><use href="#eg" x="511"/><text class="l">UniRef100_Q0ZKZ9</text></g>
<g transform="translate(0 2463)"><path class="g" d="M299 .5H511"/><path class="k" d="M483-.5h2m-2 2h2"/><use href="#t" x="299"/><use href="#eg" x="511"/><text class="l">UniRef100_A8PWF5</text></g>
<g transform="translate(0 2474)"><path class="m" d="M296 .5H511"/><path class="k" d="M479-.5h5m-5 2h5"/><use href="#t" x="296"/><use href="#em" x="511"/><text class="l">UniRef100_A8P5T6</text></g>
<g transform="translate(0 2485)"><path class="m" d="M296 .5H502"/><path class="k" d="M470-.5h6m-6 2h6"/><use href="#t" x="296"/><use href="#em" x="502"/><text class="l">UniRef100_Q08CH0</text></g>
<g transform="translate(0 2496)"><path class="g" d="M318 .5H511"/><path class="k" d="M476-.5h5m-5 2h5"/><use href="#t" x="318"/><use href="#eg" x="511"/><text class="l">UniRef100_Q95WR7</text></g>
<g transform="translate(0 2507)"><path class="g" d="M318 .5H511"/><path class="k" d="M479-.5h5m-5 2h5"/><use href="#t" x="318"/><use href="#eg" x="511"/><text class="l">UniRef100_Q0ZKZ4</text></g>
<g transform="translate(0 2518)"><path class="g" d="M296 .5H502"/><path class="k" d="M474-.5h6m-6 2h6"/><use href="#t" x="296"/><use href="#eg" x="502"/><text class="l">UniRef100_B3SAF9</text></g>
<g transform="translate(0 2529)"><path class="g" d="M293 .5H511"/><path class="k" d="M479-.5h5m-5 2h5"/><use href="#t" x="293"/><use href="#eg" x="511"/><text class="l">UniRef100_Q9Y0D2</text></g>
<g transform="translate(0 2540)"><path class="m" d="M296 .5H511"/><path class="k" d="M476-.5h5m-5 2h5"/><use href="#t" x="296"/><use href="#em" x="511"/><text class="l">UniRef100_Q9XYA0</text></g>
<g transform="translate(0 2551)"><path class="m" d="M296 .5H511"/><path class="k" d="M479-.5h5m-5 2h5"/><use href="#t" x="296"/><use href="#em" x="511"/><text class="l">UniRef100_Q5IH78</text></g>
<g transform="translate(0 2562)"><path class="m" d="M296 .5H511"/><path class="k" d="M479-.5h5m-5 2h5"/><use href="#t" x="296"/><use href="#em" x="511"/><text class="l">UniRef100_Q5IH77</text></g>
<g transform="translate(0 2573)"><path class="m" d="M296 .5H511"/><path class="k" d="M476-.5h5m-5 2h5"/><use href="#t" x="296"/><use href="#em" x="511"/><text class="l">UniRef100_Q2QKE1</text></g>
<g transform="translate(0 2584)"><path class="m" d="M296 .5H511"/><path class="k" d="M479-.5h5m-5 2h5"/><use href="#t" x="296"/><use href="#em" x="511"/><text class="l">UniRef100_Q2QKD7</text></g>
<g transform="translate(0 2595)"><path class="m" d="M296 .5H511"/><path class="k" d="M479-.5h5m-5 2h5"/><use href="#t" x="296"/><use href="#em" x="511"/><text class="l">UniRef100_Q26208</text></g>
<g transform="translate(0 2606)"><path class="m" d="M282 .5H502"/><use href="#t" x="282"/><use href="#em" x="502"/><use href="#y" x="471"/><use href="#y" x="481"/><text class="l">UniRef100_UPI000..</text></g>
<g transform="translate(0 2617)"><path class="m" d="M312 .5H502"/><use href="#t" x="312"/><use href="#em" x="502"/><use href="#y" x="472"/><text class="l">UniRef100_UPI000..</text></g>
<g transform="translate(0 2628)"><path class="m" d="M312 .5H502"/><use href="#t" x="312"/><use href="#em" x="502"/><use href="#y" x="472"/><text class="l">UniRef100_UPI000..</text></g>
<g transform="translate(0 2639)"><path class="m" d="M296 .5H511"/><path class="k" d="M479-.5h5m-5 2h5"/><use href="#t" x="296"/><use href="#em" x="511"/><text class="l">UniRef100_Q64F55</text></g>
<g transform="translate(0 2650)"><path class="g" d="M299 .5H499"/><path class="k" d="M474-.5h3m-3 2h3M492-.5h2m-2 2h2"/><use href="#t" x="299"/><use href="#eg" x="499"/><text class="l">UniRef100_Q0MYX5</text></g>
<g transform="translate(0 2661)"><path class="g" d="M299 .5H499"/><path class="k" d="M471-.5h6m-6 2h6"/><use href="#t" x="299"/><use href="#eg" x="499"/><text class="l">UniRef100_C3XVY0</text></g>
<g transform="translate(0 2672)"><path class="g" d="M296 .5H502"/><path class="k" d="M480-.5h2m-2 2h2"/><use href="#t" x="296"/><use href="#eg" x="502"/><text class="l">UniRef100_A9CPH5</text></g>
<g transform="translate(0 2683)"><path class="m" d="M293 .5H499"/><path class="k" d="M468-.5h5m-5 2h5"/><use href="#t" x="293"/><use href="#em" x="499"/><text class="l">UniRef100_UPI000..</text></g>
<g transform="translate(0 2694)"><path class="m" d="M293 .5H499"/><path class="k" d="M468-.5h5m-5 2h5"/><use href="#t" x="293"/><use href="#em" x="499"/><text class="l">UniRef100_UPI000..</text></g>
<g transform="translate(0 2705)"><path class="g" d="M318 .5H511"/><path class="k" d="M476-.5h5m-5 2h5"/><use href="#t" x="318"/><use href="#eg" x="511"/><text class="l">UniRef100_Q70OT4</text></g>
<g transform="translate(0 2716)"><path class="g" d="M299 .5H499"/><path class="k" d="M468-.5h5m-5 2h5"/><use href="#t" x="299"/><use href="#eg" x="499"/><text class="l">UniRef100_Q1MTY3</text></g>
<g transform="translate(0 2727)"><path class="g" d="M318 .5H511"/><path class="k" d="M479-.5h5m-5 2h5"/><use href="#t" x="318"/><use href="#eg" x="511"/><text class="l">UniRef100_Q0ZKZ6</text></g>
<g transform="translate(0 2738)"><path class="g" d="M307 .5H466"/><path class="k" d="M449-.5h6m-6 2h6"/><use href="#t" x="307"/><use href="#eg" x="466"/><text class="l">UniRef100_A5HLX8</text></g>
<g transform="translate(0 2749)"><path class="g" d="M318 .5H511"/><path class="k" d="M479-.5h5m-5 2h5"/><use href="#t" x="318"/><use href="#eg" x="511"/><text class="l">UniRef100_A1BN03</text></g>
<g transform="translate(0 2760)"><path class="m" d="M312 .5H502"/><use href="#t" x="312"/><use href="#em" x="502"/><use href="#y" x="475"/><text class="l">UniRef100_UPI000..</text></g>
<g transform="translate(0 2771)"><path class="m" d="M296 .5H511"/><path class="k" d="M480-.5h5m-5 2h5"/><use href="#t" x="296"/><use href="#em" x="511"/><text class="l">UniRef100_Q5PXS3</text></g>
<g transform="translate(0 2782)"><path class="g" d="M318 .5H511"/><path class="k" d="M476-.5h5m-5 2h5"/><use href="#t" x="318"/><use href="#eg" x="511"/><text class="l">UniRef100_Q5EF92</text></g>
<g transform="translate(0 2793)"><path class="g" d="M296 .5H511"/><path class="k" d="M477-.5h6m-6 2h6"/><use href="#t" x="296"/><use href="#eg" x="511"/><text class="l">UniRef100_Q2QKD8</text></g>
<!-- legend -->
<text x="10" y="2815" textLength="66" lengthAdjust="spacingAndGlyphs">Large gaps:</text>
<path d="M80.5 2815h5l-2.5-7z" fill="#ffff60"/>
<text x="88" y="2815" textLength="66" lengthAdjust="spacingAndGlyphs">(in Query)/</text>
<path d="M155 2811h5" stroke="#00c0c0" stroke-width="2"/>
<text x="166" y="2815" textLength="72" lengthAdjust="spacingAndGlyphs">(in Subject)</text>
<path d="M438.5 2807v9M456.5 2807v9" stroke="#bbb"/>
<rect x="439" y="2810" width="17" height="3" fill="#00c0c0"/>
<text x="459" y="2815" textLength="54" lengthAdjust="spacingAndGlyphs">=100char.</text>
</svg>
</body></html>
